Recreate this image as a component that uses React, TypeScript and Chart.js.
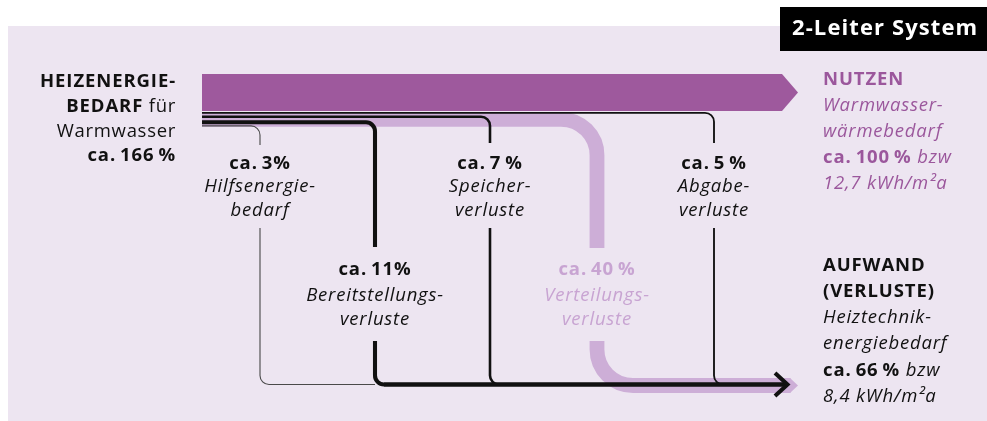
import React, { useEffect, useRef } from "react";
import { Chart, registerables } from "chart.js";

Chart.register(...registerables);

// ---------------- data ----------------
const TITLE = "2-Leiter System";
const INPUT_PCT = 166; // Heizenergiebedarf für Warmwasser
const USE_PCT = 100; // Nutzen
const LOSS_PCT = 66; // Aufwand (Verluste)
const USE_KWH = "12,7";
const LOSS_KWH = "8,4";

// individual losses (order: outermost lane first)
const LOSS_NAMES = ["Abgabeverluste", "Speicherverluste", "Bereitstellungsverluste", "Hilfsenergiebedarf"];
const LOSS_VALUES = [5, 7, 11, 3];
const LOSS_LABELS = [
  ["Abgabe-", "verluste"],
  ["Speicher-", "verluste"],
  ["Bereitstellungs-", "verluste"],
  ["Hilfsenergie-", "bedarf"],
];
const DIST_NAME = "Verteilungsverluste";
const DIST_VALUE = 40;
const DIST_LABEL = ["Verteilungs-", "verluste"];

// ---------------- layout / style ----------------
const W = 987;
const H = 421;
const FONT = '"Open Sans", "Noto Sans", sans-serif';
const FS = 18.5;
const C = {
  panel: "#ede5f1",
  purple: "#9e599d",
  pink: "#cdaed7",
  pinkText: "#c8a4d2",
  purpleText: "#9b579c",
  ink: "#111111",
  hilf: "#4a4a4a",
};
const LAYOUT = {
  panel: [8, 26, 987, 421],
  titleBox: [780, 7, 987, 51],
  flowX0: 202,
  mainTop: 74,
  rectEnd: 782,
  tip: 798,
  pxPerPct: 0.37,
  lossX: [714, 490, 375, 260],
  laneY: [112.8, 116.8, 122.3, 125.9],
  breakAt: [143, 143, 247, 145],
  resumeAt: [228, 228, 341, 228],
  lossColor: [C.ink, C.ink, C.ink, C.hilf],
  labelRow: [0, 0, 1, 0],
  bottomY: 384.5,
  lineR: 9,
  distX: 597,
  distY: 119.3,
  distBottom: 385.5,
  distR: 36,
  distBreak: 248,
  distResume: 341,
  rowBase: [[169, 192, 216], [275, 301, 325]],
};

type Seg = { t: string; s: "b" | "r" | "i"; c: string };

function setFont(ctx: CanvasRenderingContext2D, s: string, size = FS) {
  const f =
    s === "b" ? `700 ${size}px ${FONT}` : s === "i" ? `italic 500 ${size}px ${FONT}` : `500 ${size}px ${FONT}`;
  ctx.font = f;
  (ctx as any).letterSpacing = s === "b" ? "0.9px" : s === "i" ? "0.8px" : "0.7px";
}

function drawRich(ctx: CanvasRenderingContext2D, segs: Seg[], x: number, y: number, align: "left" | "right" | "center") {
  const widths = segs.map((sg) => {
    setFont(ctx, sg.s);
    return ctx.measureText(sg.t).width;
  });
  const total = widths.reduce((a, b) => a + b, 0);
  let cx = align === "right" ? x - total : align === "center" ? x - total / 2 : x;
  ctx.textAlign = "left";
  ctx.textBaseline = "alphabetic";
  segs.forEach((sg, i) => {
    setFont(ctx, sg.s);
    ctx.fillStyle = sg.c;
    ctx.fillText(sg.t, cx, y);
    cx += widths[i];
  });
}

const pct = (v: number) => `ca.\u2009${v}\u2009%`;
const pctTight = (v: number) => `ca.\u2009${v}%`;

const diagramPlugin = {
  id: "sankeyDiagram",
  beforeDatasetsDraw(chart: any) {
    const ctx: CanvasRenderingContext2D = chart.ctx;
    const xs = chart.scales.x;
    const ys = chart.scales.y;
    const X = (v: number) => xs.getPixelForValue(v);
    const Y = (v: number) => ys.getPixelForValue(v);
    const T = (p: number) => Math.abs(Y(p * LAYOUT.pxPerPct) - Y(0));
    const L = LAYOUT;
    ctx.save();

    // panel
    const [px0, py0, px1, py1] = L.panel;
    ctx.fillStyle = C.panel;
    ctx.fillRect(X(px0), Y(py0), X(px1) - X(px0), Y(py1) - Y(py0));

    // title box
    const [tx0, ty0, tx1, ty1] = L.titleBox;
    ctx.fillStyle = "#000";
    ctx.fillRect(X(tx0), Y(ty0), X(tx1) - X(tx0), Y(ty1) - Y(ty0));
    ctx.fillStyle = "#fff";
    ctx.font = `700 22px ${FONT}`;
    (ctx as any).letterSpacing = "1.1px";
    ctx.textAlign = "left";
    ctx.fillText(TITLE, X(792), Y(34.5));

    // distribution-loss band (light pink)
    const dw = T(DIST_VALUE);
    ctx.strokeStyle = C.pink;
    ctx.lineWidth = dw;
    ctx.lineCap = "butt";
    ctx.lineJoin = "miter";
    ctx.beginPath();
    ctx.moveTo(X(L.flowX0), Y(L.distY));
    ctx.lineTo(X(L.distX - L.distR), Y(L.distY));
    ctx.arcTo(X(L.distX), Y(L.distY), X(L.distX), Y(L.distY + L.distR), L.distR);
    ctx.lineTo(X(L.distX), Y(L.distBreak));
    ctx.stroke();
    ctx.beginPath();
    ctx.moveTo(X(L.distX), Y(L.distResume));
    ctx.lineTo(X(L.distX), Y(L.distBottom - L.distR));
    ctx.arcTo(X(L.distX), Y(L.distBottom), X(L.distX + L.distR), Y(L.distBottom), L.distR);
    ctx.lineTo(X(790.5), Y(L.distBottom));
    ctx.stroke();
    ctx.fillStyle = C.pink;
    ctx.beginPath();
    ctx.moveTo(X(790), Y(L.distBottom) - dw / 2);
    ctx.lineTo(X(L.tip), Y(L.distBottom));
    ctx.lineTo(X(790), Y(L.distBottom) + dw / 2);
    ctx.closePath();
    ctx.fill();

    // main useful-energy bar
    const mh = T(USE_PCT);
    const mt = Y(L.mainTop);
    ctx.fillStyle = C.purple;
    ctx.beginPath();
    ctx.moveTo(X(L.flowX0), mt);
    ctx.lineTo(X(L.rectEnd), mt);
    ctx.lineTo(X(L.tip), mt + mh / 2);
    ctx.lineTo(X(L.rectEnd), mt + mh);
    ctx.lineTo(X(L.flowX0), mt + mh);
    ctx.closePath();
    ctx.fill();

    // loss lines
    const r = L.lineR;
    LOSS_VALUES.forEach((v, i) => {
      const lx = L.lossX[i];
      const ly = L.laneY[i];
      ctx.strokeStyle = L.lossColor[i];
      ctx.lineWidth = Math.max(1.1, T(v));
      ctx.beginPath();
      ctx.moveTo(X(L.flowX0), Y(ly));
      ctx.lineTo(X(lx - r), Y(ly));
      ctx.arcTo(X(lx), Y(ly), X(lx), Y(ly + r), r);
      ctx.lineTo(X(lx), Y(L.breakAt[i]));
      ctx.stroke();
      ctx.beginPath();
      ctx.moveTo(X(lx), Y(L.resumeAt[i]));
      ctx.lineTo(X(lx), Y(L.bottomY - r));
      ctx.arcTo(X(lx), Y(L.bottomY), X(lx + r), Y(L.bottomY), r);
      const endX = i === 3 ? L.lossX[2] : 786;
      ctx.lineTo(X(endX), Y(L.bottomY));
      ctx.stroke();
    });
    // bottom collector (thick) and arrow head
    ctx.strokeStyle = C.ink;
    ctx.lineWidth = T(LOSS_VALUES[2]);
    ctx.beginPath();
    ctx.moveTo(X(L.lossX[2] + r), Y(L.bottomY));
    ctx.lineTo(X(786), Y(L.bottomY));
    ctx.stroke();
    ctx.lineJoin = "miter";
    ctx.beginPath();
    ctx.moveTo(X(775), Y(L.bottomY - 11.5));
    ctx.lineTo(X(787.5), Y(L.bottomY));
    ctx.lineTo(X(775), Y(L.bottomY + 11.5));
    ctx.stroke();

    // left label
    const ink = C.ink;
    drawRich(ctx, [{ t: "HEIZENERGIE-", s: "b", c: ink }], X(176), Y(87), "right");
    drawRich(ctx, [{ t: "BEDARF", s: "b", c: ink }, { t: " für", s: "r", c: ink }], X(176), Y(112), "right");
    drawRich(ctx, [{ t: "Warmwasser", s: "r", c: ink }], X(176), Y(137), "right");
    drawRich(ctx, [{ t: pct(INPUT_PCT), s: "b", c: ink }], X(176), Y(161), "right");

    // loss labels
    LOSS_VALUES.forEach((v, i) => {
      const rows = L.rowBase[L.labelRow[i]];
      const cx = X(L.lossX[i]);
      const t = i === 3 || v >= 10 ? pctTight(v) : pct(v);
      drawRich(ctx, [{ t, s: "b", c: ink }], cx, Y(rows[0]), "center");
      drawRich(ctx, [{ t: LOSS_LABELS[i][0], s: "i", c: ink }], cx, Y(rows[1]), "center");
      drawRich(ctx, [{ t: LOSS_LABELS[i][1], s: "i", c: ink }], cx, Y(rows[2]), "center");
    });
    const drows = L.rowBase[1];
    drawRich(ctx, [{ t: pct(DIST_VALUE), s: "b", c: C.pinkText }], X(L.distX), Y(drows[0]), "center");
    drawRich(ctx, [{ t: DIST_LABEL[0], s: "i", c: C.pinkText }], X(L.distX), Y(drows[1]), "center");
    drawRich(ctx, [{ t: DIST_LABEL[1], s: "i", c: C.pinkText }], X(L.distX), Y(drows[2]), "center");

    // right labels
    const rx = X(823);
    const pu = C.purpleText;
    drawRich(ctx, [{ t: "NUTZEN", s: "b", c: pu }], rx, Y(84.5), "left");
    drawRich(ctx, [{ t: "Warmwasser-", s: "i", c: pu }], rx, Y(110.5), "left");
    drawRich(ctx, [{ t: "wärmebedarf", s: "i", c: pu }], rx, Y(136.5), "left");
    drawRich(ctx, [{ t: pct(USE_PCT), s: "b", c: pu }, { t: " bzw", s: "i", c: pu }], rx, Y(162.5), "left");
    drawRich(ctx, [{ t: `${USE_KWH} kWh/m²a`, s: "i", c: pu }], rx, Y(188.5), "left");

    drawRich(ctx, [{ t: "AUFWAND", s: "b", c: ink }], rx, Y(271), "left");
    drawRich(ctx, [{ t: "(VERLUSTE)", s: "b", c: ink }], rx, Y(297), "left");
    drawRich(ctx, [{ t: "Heiztechnik-", s: "i", c: ink }], rx, Y(323), "left");
    drawRich(ctx, [{ t: "energiebedarf", s: "i", c: ink }], rx, Y(349), "left");
    drawRich(ctx, [{ t: pct(LOSS_PCT), s: "b", c: ink }, { t: " bzw", s: "i", c: ink }], rx, Y(376), "left");
    drawRich(ctx, [{ t: `${LOSS_KWH} kWh/m²a`, s: "i", c: ink }], rx, Y(402), "left");

    ctx.restore();
  },
};

export default function App() {
  const ref = useRef<HTMLCanvasElement | null>(null);
  useEffect(() => {
    if (!ref.current) return;
    const chart = new Chart(ref.current, {
      type: "scatter",
      data: { datasets: [{ label: [DIST_NAME, ...LOSS_NAMES].join(", "), data: [] }] },
      options: {
        animation: false,
        responsive: false,
        maintainAspectRatio: false,
        devicePixelRatio: 1,
        layout: { padding: 0 },
        plugins: { legend: { display: false }, tooltip: { enabled: false }, title: { display: false } },
        scales: {
          x: { type: "linear", min: 0, max: W, display: false },
          y: { type: "linear", min: 0, max: H, reverse: true, display: false },
        },
      },
      plugins: [diagramPlugin],
    });
    return () => chart.destroy();
  }, []);
  return (
    <div style={{ position: "fixed", left: 0, top: 0, width: W, height: H, background: "#fff" }}>
      <canvas ref={ref} width={W} height={H} style={{ display: "block", width: W, height: H }} />
    </div>
  );
}
